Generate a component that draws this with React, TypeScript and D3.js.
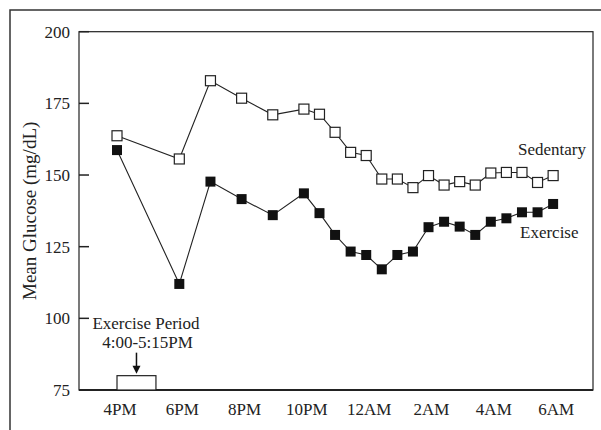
// GlucoseChart.tsx
import React, { useEffect, useRef } from 'react';
import * as d3 from 'd3';

// hours after 4PM
const times = [0, 2, 3, 4, 5, 6, 6.5, 7, 7.5, 8, 8.5, 9, 9.5, 10, 10.5, 11, 11.5, 12, 12.5, 13, 13.5, 14];
const sedentary = [163.7, 155.6, 182.9, 176.8, 171, 173, 171.2, 164.9, 157.9, 156.8, 148.6, 148.6, 145.6, 149.8, 146.5, 147.7, 146.5, 150.7, 150.9, 150.9, 147.4, 149.8];
const exercise = [158.7, 112, 147.7, 141.6, 136, 143.6, 136.7, 129.1, 123.3, 122.1, 117.1, 122.1, 123.3, 131.8, 133.7, 132, 129.1, 133.7, 134.9, 137, 137, 139.9];

const xTickHours = [0, 2, 4, 6, 8, 10, 12, 14];
const xTickLabels = ['4PM', '6PM', '8PM', '10PM', '12AM', '2AM', '4AM', '6AM'];
const yTicks = [75, 100, 125, 150, 175, 200];

// exercise period 4:00-5:15PM
const exercisePeriod = [0, 1.25];
const exerciseBar = [75, 80];

const FONT = "'Liberation Serif', Tinos, 'Times New Roman', Times, 'Nimbus Roman', 'DejaVu Serif', serif";

const App = () => {
  const svgRef = useRef<SVGSVGElement>(null);
  const width = 601;
  const height = 430;
  const margin = { top: 31.7, right: 8, bottom: 40, left: 79 };

  useEffect(() => {
    d3.select(svgRef.current).selectAll('*').remove();

    const svg = d3.select(svgRef.current)
      .attr('width', width)
      .attr('height', height)
      .attr('font-family', FONT);

    const chartWidth = width - margin.left - margin.right;
    const chartHeight = height - margin.top - margin.bottom;

    // outer frame
    svg.append('rect')
      .attr('x', 10)
      .attr('y', 10)
      .attr('width', 640)
      .attr('height', 460)
      .attr('fill', 'none')
      .attr('stroke', '#333')
      .attr('stroke-width', 1.5);

    const g = svg.append('g')
      .attr('transform', `translate(${margin.left}, ${margin.top})`);

    const xScale = d3.scaleLinear()
      .domain([-1.22, 15.28])
      .range([0, chartWidth]);

    const yScale = d3.scaleLinear()
      .domain([75, 200])
      .range([chartHeight, 0]);

    // plot box
    g.append('rect')
      .attr('width', chartWidth)
      .attr('height', chartHeight)
      .attr('fill', 'none')
      .attr('stroke', '#222')
      .attr('stroke-width', 1.2);

    g.append('line')
      .attr('x1', 0)
      .attr('x2', chartWidth)
      .attr('y1', chartHeight)
      .attr('y2', chartHeight)
      .attr('stroke', '#222')
      .attr('stroke-width', 2);

    // y ticks (inward) and labels
    yTicks.forEach(t => {
      g.append('line')
        .attr('x1', 0)
        .attr('x2', 10)
        .attr('y1', yScale(t))
        .attr('y2', yScale(t))
        .attr('stroke', '#222')
        .attr('stroke-width', 1.5);
      g.append('text')
        .attr('x', -9)
        .attr('y', yScale(t))
        .attr('dy', '0.35em')
        .attr('text-anchor', 'end')
        .attr('font-size', 17)
        .attr('fill', '#222')
        .text(t);
    });

    // x labels
    xTickHours.forEach((h, i) => {
      g.append('text')
        .attr('x', xScale(h) + 3)
        .attr('y', chartHeight + 25)
        .attr('text-anchor', 'middle')
        .attr('font-size', 17)
        .attr('fill', '#222')
        .text(xTickLabels[i]);
    });

    // y axis title
    g.append('text')
      .attr('transform', 'rotate(-90)')
      .attr('x', -(yScale(137.5)))
      .attr('y', 36 - margin.left)
      .attr('text-anchor', 'middle')
      .attr('font-size', 19)
      .attr('fill', '#222')
      .text('Mean Glucose (mg/dL)');

    // exercise period box
    g.append('rect')
      .attr('x', xScale(exercisePeriod[0]))
      .attr('y', yScale(exerciseBar[1]))
      .attr('width', xScale(exercisePeriod[1]) - xScale(exercisePeriod[0]))
      .attr('height', yScale(exerciseBar[0]) - yScale(exerciseBar[1]))
      .attr('fill', '#fff')
      .attr('stroke', '#222')
      .attr('stroke-width', 1.2);

    const arrowX = xScale((exercisePeriod[0] + exercisePeriod[1]) / 2);
    const arrowTip = yScale(exerciseBar[1]) - 2;
    g.append('line')
      .attr('x1', arrowX)
      .attr('x2', arrowX)
      .attr('y1', arrowTip - 21)
      .attr('y2', arrowTip - 6)
      .attr('stroke', '#111')
      .attr('stroke-width', 1.5);
    g.append('path')
      .attr('d', `M${arrowX - 4},${arrowTip - 8} L${arrowX + 4},${arrowTip - 8} L${arrowX},${arrowTip} Z`)
      .attr('fill', '#111');

    g.append('text')
      .attr('x', 146 - margin.left)
      .attr('y', 329 - margin.top)
      .attr('text-anchor', 'middle')
      .attr('font-size', 17)
      .attr('fill', '#222')
      .text('Exercise Period');
    g.append('text')
      .attr('x', 147.5 - margin.left)
      .attr('y', 348 - margin.top)
      .attr('text-anchor', 'middle')
      .attr('font-size', 17)
      .attr('fill', '#222')
      .text('4:00-5:15PM');

    // lines
    const line = d3.line<number>()
      .x((d, i) => xScale(times[i]))
      .y(d => yScale(d));

    [sedentary, exercise].forEach(series => {
      g.append('path')
        .datum(series)
        .attr('d', line)
        .attr('fill', 'none')
        .attr('stroke', '#222')
        .attr('stroke-width', 1.1);
    });

    const size = 10;
    sedentary.forEach((v, i) => {
      g.append('rect')
        .attr('x', xScale(times[i]) - size / 2)
        .attr('y', yScale(v) - size / 2)
        .attr('width', size)
        .attr('height', size)
        .attr('fill', '#fff')
        .attr('stroke', '#222')
        .attr('stroke-width', 1.2);
    });
    exercise.forEach((v, i) => {
      g.append('rect')
        .attr('x', xScale(times[i]) - size / 2)
        .attr('y', yScale(v) - size / 2)
        .attr('width', size)
        .attr('height', size)
        .attr('fill', '#111');
    });

    // series labels
    g.append('text')
      .attr('x', 518 - margin.left)
      .attr('y', 155 - margin.top)
      .attr('font-size', 17)
      .attr('fill', '#222')
      .text('Sedentary');
    g.append('text')
      .attr('x', 520 - margin.left)
      .attr('y', 238 - margin.top)
      .attr('font-size', 17)
      .attr('fill', '#222')
      .text('Exercise');
  }, []);

  return (
    <div style={{ position: 'absolute', left: 0, top: 0 }}>
      <svg ref={svgRef} style={{ display: 'block', background: '#fff' }}></svg>
    </div>
  );
};

export default App;
